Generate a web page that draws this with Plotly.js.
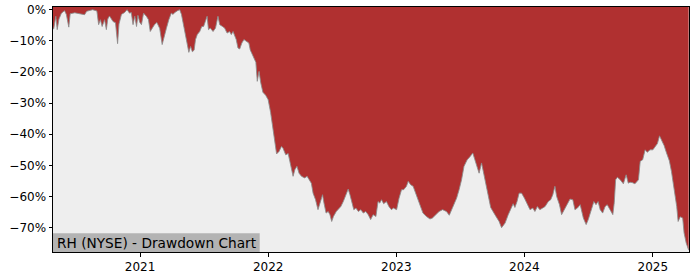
<!DOCTYPE html>
<html>
<head>
<meta charset="utf-8">
<script src="https://cdn.plot.ly/plotly-3.0.1.min.js"></script>
<style>html,body{margin:0;padding:0;background:#fff;}#chart{width:700px;height:280px;}</style>
</head>
<body>
<div id="chart"></div>
<script>
const dates = ["2020-04-28","2020-04-30","2020-05-06","2020-05-10","2020-05-15","2020-05-22","2020-05-31","2020-06-05","2020-06-12","2020-06-16","2020-06-29","2020-07-13","2020-07-27","2020-08-02","2020-08-19","2020-08-31","2020-09-05","2020-09-10","2020-09-15","2020-09-22","2020-09-27","2020-10-01","2020-10-06","2020-10-16","2020-10-23","2020-10-29","2020-11-02","2020-11-09","2020-11-18","2020-11-25","2020-12-02","2020-12-07","2020-12-12","2020-12-17","2020-12-22","2020-12-26","2020-12-31","2021-01-05","2021-01-11","2021-01-19","2021-01-25","2021-01-30","2021-02-05","2021-02-11","2021-02-18","2021-02-26","2021-03-05","2021-03-10","2021-03-17","2021-03-24","2021-03-31","2021-04-05","2021-04-10","2021-04-18","2021-04-24","2021-04-29","2021-05-06","2021-05-13","2021-05-20","2021-05-25","2021-05-30","2021-06-04","2021-06-08","2021-06-13","2021-06-20","2021-06-26","2021-07-01","2021-07-06","2021-07-11","2021-07-15","2021-07-20","2021-07-28","2021-08-04","2021-08-11","2021-08-16","2021-08-24","2021-08-30","2021-09-06","2021-09-13","2021-09-18","2021-09-23","2021-10-02","2021-10-07","2021-10-12","2021-10-18","2021-10-24","2021-10-31","2021-11-07","2021-11-11","2021-11-18","2021-11-27","2021-12-01","2021-12-06","2021-12-11","2021-12-17","2021-12-25","2022-01-01","2022-01-08","2022-01-13","2022-01-18","2022-01-25","2022-02-01","2022-02-08","2022-02-12","2022-02-20","2022-02-27","2022-03-06","2022-03-13","2022-03-18","2022-03-24","2022-03-30","2022-04-06","2022-04-15","2022-04-22","2022-04-28","2022-05-04","2022-05-09","2022-05-16","2022-05-23","2022-05-30","2022-06-05","2022-06-09","2022-06-15","2022-06-21","2022-06-26","2022-07-01","2022-07-06","2022-07-14","2022-07-20","2022-07-27","2022-08-03","2022-08-10","2022-08-17","2022-08-22","2022-08-27","2022-09-02","2022-09-08","2022-09-15","2022-09-22","2022-09-29","2022-10-06","2022-10-13","2022-10-20","2022-10-27","2022-11-04","2022-11-10","2022-11-15","2022-11-20","2022-11-26","2022-12-04","2022-12-11","2022-12-18","2022-12-24","2023-01-02","2023-01-09","2023-01-16","2023-01-22","2023-01-30","2023-02-04","2023-02-11","2023-02-18","2023-02-25","2023-03-04","2023-03-11","2023-03-18","2023-03-28","2023-04-07","2023-04-14","2023-04-24","2023-05-03","2023-05-13","2023-05-24","2023-06-01","2023-06-08","2023-06-14","2023-06-22","2023-06-29","2023-07-06","2023-07-13","2023-07-22","2023-07-30","2023-08-07","2023-08-13","2023-08-18","2023-08-25","2023-09-01","2023-09-05","2023-09-13","2023-09-20","2023-09-27","2023-10-09","2023-10-21","2023-10-28","2023-11-07","2023-11-16","2023-11-26","2023-11-30","2023-12-05","2023-12-11","2023-12-17","2023-12-24","2024-01-01","2024-01-08","2024-01-12","2024-01-17","2024-01-25","2024-01-31","2024-02-07","2024-02-14","2024-02-22","2024-02-29","2024-03-09","2024-03-16","2024-03-22","2024-03-28","2024-04-02","2024-04-10","2024-04-16","2024-04-23","2024-05-01","2024-05-10","2024-05-18","2024-05-24","2024-05-31","2024-06-08","2024-06-17","2024-06-25","2024-07-01","2024-07-11","2024-07-17","2024-07-23","2024-07-29","2024-08-04","2024-08-11","2024-08-18","2024-08-24","2024-09-01","2024-09-09","2024-09-13","2024-09-17","2024-09-22","2024-09-30","2024-10-09","2024-10-17","2024-10-23","2024-10-28","2024-11-03","2024-11-11","2024-11-21","2024-11-26","2024-12-03","2024-12-10","2024-12-16","2024-12-24","2025-01-01","2025-01-07","2025-01-14","2025-01-20","2025-01-27","2025-02-02","2025-02-09","2025-02-17","2025-02-23","2025-03-03","2025-03-10","2025-03-14","2025-03-20","2025-03-27","2025-03-31","2025-04-06","2025-04-13"];

const drawdown = [-6.0,-6.2,-2.1,-6.4,-3.0,-1.1,-0.3,-1.5,-5.6,-1.3,-1.0,-1.2,-1.6,-0.5,0,-0.4,-4.8,-3.2,-5.4,-3.2,-6.4,-3.0,-2.0,-3.8,-4.2,-10.9,-4.6,-1.5,-0.9,0,-1.1,-0.9,-4.8,-2.1,-5.4,-1.8,-4.0,-4.8,-1.1,-2.1,-3.2,-7.0,-6.0,-4.8,-4.1,-6.0,-11.2,-8.6,-6.0,-3.2,-1.1,-1.5,-0.9,-0.3,0,-1.5,-5.4,-9.1,-13.7,-11.8,-13.5,-13.0,-9.6,-8.0,-7.0,-5.4,-5.4,-3.8,-2.1,-6.4,-5.9,-7.0,-5.9,-2.1,-4.8,-5.4,-5.9,-7.5,-7.0,-8.0,-7.0,-9.6,-12.3,-12.6,-10.7,-9.6,-10.2,-10.7,-12.9,-14.5,-16.9,-23.0,-19.8,-23.5,-26.5,-27.5,-28.9,-33.0,-37.0,-41.7,-46.3,-45.5,-43.9,-44.4,-46.6,-46.2,-49.8,-53.5,-51.4,-50.3,-52.5,-53.5,-54.0,-53.5,-54.6,-55.7,-58.9,-61.0,-64.2,-61.6,-59.4,-62.1,-65.3,-64.8,-65.8,-68.0,-66.4,-64.8,-64.2,-63.2,-61.6,-59.4,-57.6,-59.4,-61.6,-64.2,-63.7,-64.8,-64.2,-65.3,-64.8,-65.8,-67.4,-65.8,-66.4,-61.6,-62.1,-61.0,-62.3,-61.6,-63.2,-64.2,-63.7,-64.2,-60.5,-57.8,-57.8,-56.7,-55.1,-56.2,-56.7,-58.9,-60.5,-63.2,-65.3,-66.4,-67.2,-66.9,-65.8,-64.8,-64.2,-64.8,-66.0,-64.2,-62.6,-60.5,-57.8,-54.6,-50.3,-48.2,-47.2,-46.0,-48.2,-50.3,-52.5,-49.2,-51.4,-55.7,-60.0,-63.5,-65.8,-68.0,-70.0,-68.5,-65.8,-63.2,-62.3,-63.5,-61.6,-58.9,-58.9,-60.5,-62.1,-63.2,-64.2,-63.7,-64.8,-63.2,-64.2,-63.7,-63.2,-61.6,-61.0,-59.4,-56.7,-60.0,-62.6,-65.8,-64.2,-62.6,-60.8,-61.0,-64.2,-63.7,-62.6,-66.9,-69.0,-67.4,-64.2,-61.6,-62.6,-61.6,-64.2,-65.3,-63.2,-62.6,-64.2,-65.8,-62.0,-54.6,-53.8,-54.6,-55.9,-53.0,-55.7,-55.4,-55.5,-55.9,-54.6,-48.7,-48.2,-45.0,-45.8,-45.0,-45.0,-44.0,-43.0,-40.5,-42.0,-43.6,-46.0,-48.5,-51.9,-57.8,-63.2,-68.0,-66.5,-66.9,-71.7,-74.9,-77.2];

const yTickVals = [0,-10,-20,-30,-40,-50,-60,-70];
const yTickText = ["0%","\u221210%","\u221220%","\u221230%","\u221240%","\u221250%","\u221260%","\u221270%"];
const chartLabel = "RH (NYSE) - Drawdown Chart";

const Y_TOP = 0.87, Y_BOTTOM = -77.8;
const FONT = "DejaVu Sans, sans-serif";

const topLine = {
  x: dates, y: dates.map(() => Y_TOP + 5),
  type: "scatter", mode: "lines", line: {width: 0, color: "rgba(0,0,0,0)"},
  hoverinfo: "skip", showlegend: false
};
const ddTrace = {
  x: dates, y: drawdown,
  type: "scatter", mode: "lines",
  line: {width: 1, color: "rgba(140,140,140,0.85)"},
  fill: "tonexty", fillcolor: "#b03030",
  showlegend: false
};

const layout = {
  width: 700, height: 280,
  margin: {l: 53, r: 11, t: 7, b: 28, pad: 0},
  paper_bgcolor: "#ffffff",
  plot_bgcolor: "#eeeeee",
  showlegend: false,
  font: {family: FONT, color: "#000", size: 12},
  xaxis: {
    type: "date",
    range: ["2020-04-28", "2025-04-14"],
    tick0: "2021-01-01", dtick: "M12", tickformat: "%Y",
    ticks: "outside", ticklen: 3.5, tickcolor: "#000", tickwidth: 1,
    showgrid: false, zeroline: false,
    showline: true, linecolor: "#000", linewidth: 1, mirror: true,
    tickfont: {family: FONT, size: 12, color: "#000"}
  },
  yaxis: {
    range: [Y_BOTTOM, Y_TOP],
    tickvals: yTickVals, ticktext: yTickText,
    ticks: "outside", ticklen: 3.5, tickcolor: "#000", tickwidth: 1,
    showgrid: false, zeroline: false,
    showline: true, linecolor: "#000", linewidth: 1, mirror: true,
    tickfont: {family: FONT, size: 12, color: "#000"}
  },
  shapes: [{
    type: "rect", xref: "paper", yref: "paper",
    x0: 0, x1: 0.325, y0: 0, y1: 0.0764,
    fillcolor: "#b3b3b3", line: {width: 0}, layer: "above"
  }],
  annotations: [{
    text: chartLabel, xref: "paper", yref: "paper",
    x: 0, y: 0.038, xanchor: "left", yanchor: "middle",
    xshift: 2, showarrow: false,
    font: {family: FONT, size: 13.7, color: "#000"}
  }]
};

Plotly.newPlot("chart", [topLine, ddTrace], layout, {displayModeBar: false, staticPlot: true});
</script>
</body>
</html>
